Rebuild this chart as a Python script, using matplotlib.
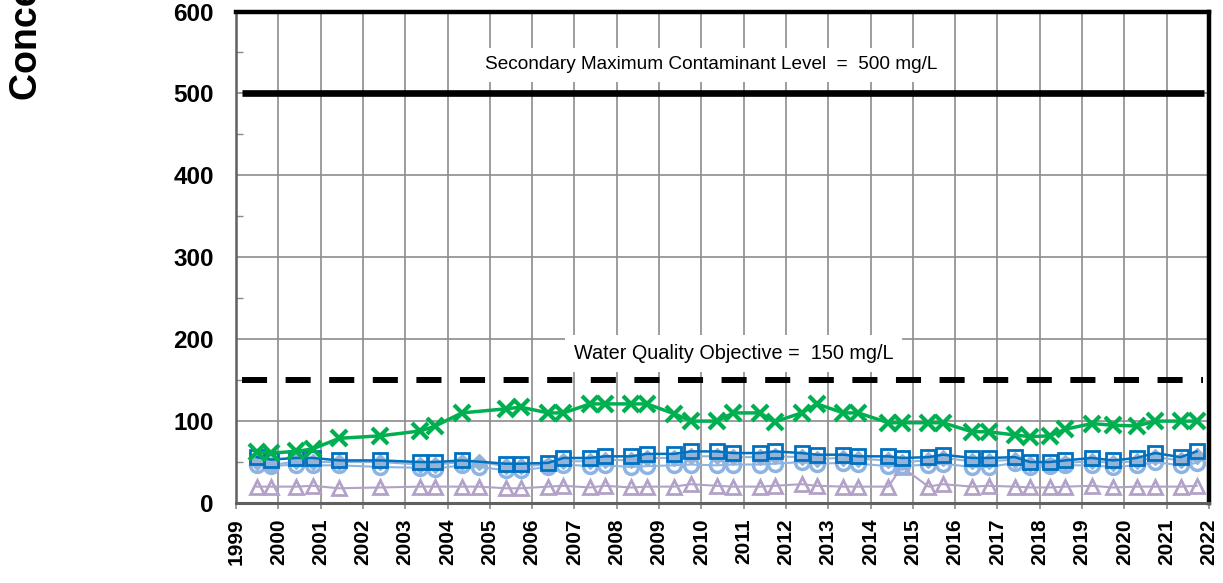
import numpy as np
import matplotlib
matplotlib.use('Agg')
import matplotlib.pyplot as plt
from matplotlib.ticker import MultipleLocator

plt.rcParams['font.family'] = ['Liberation Sans', 'DejaVu Sans']

# sampling dates (decimal years)
dates = [1999.49, 1999.83, 2000.42, 2000.81, 2001.44, 2002.41, 2003.36, 2003.71, 2004.34, 2004.74,
         2005.38, 2005.73, 2006.38, 2006.74, 2007.37, 2007.72, 2008.34, 2008.71, 2009.36, 2009.75,
         2010.36, 2010.76, 2011.39, 2011.73, 2012.37, 2012.73, 2013.36, 2013.71, 2014.42, 2014.74,
         2015.37, 2015.71, 2016.40, 2016.79, 2017.42, 2017.77, 2018.24, 2018.60, 2019.23, 2019.73,
         2020.29, 2020.73, 2021.33, 2021.71]

# green x series (no sample at 2004.74)
green = [62, 61, 63, 66, 79, 82, 88, 94, 110, None,
         115, 117, 110, 110, 121, 121, 121, 121, 109, 100,
         100, 110, 110, 99, 110, 121, 110, 110, 98, 98,
         98, 98, 87, 87, 83, 81, 82, 90, 97, 95,
         94, 100, 100, 100]

# dark blue squares
blue = [56, 53, 55, 55, 52, 52, 50, 50, 52, None,
        48, 48, 49, 55, 55, 57, 57, 60, 60, 63,
        63, 61, 61, 63, 61, 59, 59, 57, 57, 55,
        56, 59, 55, 55, 56, 50, 50, 52, 55, 52,
        55, 61, 56, 63]

# light blue diamonds
ltblue_d = [50, 46, 51, 50, 50, 50, 47, 47, 50, 50,
            45, 45, 47, 51, 51, 53, 52, 55, 55, 57,
            57, 56, 56, 57, 56, 54, 55, 54, 52, 50,
            52, 55, 51, 51, 53, 48, 47, 49, 51, 49,
            51, 56, 52, 58]

# light blue circles
ltblue_c = [47, 45, 47, 46, 46, 44, 43, 42, 46, 44,
            40, 40, 44, 47, 45, 46, 44, 45, 46, 47,
            46, 47, 47, 48, 50, 48, 49, 48, 45, 45,
            47, 48, 44, 44, 49, 44, 45, 46, 46, 44,
            46, 50, 46, 49]

# purple triangles
purple = [20, 20, 20, 21, 18, 19, 20, 20, 20, 20,
          18, 18, 20, 21, 19, 21, 19, 20, 20, 23,
          21, 20, 20, 21, 23, 21, 20, 20, 20, 44,
          20, 23, 20, 21, 20, 19, 19, 20, 21, 19,
          20, 20, 20, 21]

smcl = 500
wqo = 150
years = list(range(1999, 2023))


def clean(xs, ys):
    pts = [(x, y) for x, y in zip(xs, ys) if y is not None]
    return [p[0] for p in pts], [p[1] for p in pts]


fig = plt.figure(figsize=(12.23, 5.83), dpi=100)
ax = fig.add_axes([0.193, 0.1372, 0.7955, 0.843])

grid_c = '#8c8c8c'
ax.set_xlim(1999, 2022)
ax.set_ylim(0, 600)
ax.set_xticks(years)
ax.set_xticklabels([str(y) for y in years], rotation=90, fontsize=15, fontweight='bold')
ax.yaxis.set_major_locator(MultipleLocator(100))
ax.yaxis.set_minor_locator(MultipleLocator(50))
for lab in ax.get_yticklabels():
    lab.set_fontsize(17.5)
    lab.set_fontweight('bold')
ax.grid(True, which='major', color=grid_c, lw=1.2)
ax.set_axisbelow(True)
ax.tick_params(axis='x', which='major', direction='out', length=4, width=1.2, color=grid_c, pad=7)
ax.tick_params(axis='y', which='major', direction='in', length=0, pad=16)
ax.tick_params(axis='y', which='minor', direction='in', length=5, width=1, color=grid_c)
ax.tick_params(axis='x', which='minor', length=0)

ax.spines['left'].set_color('#606060')
ax.spines['left'].set_linewidth(1.8)
ax.spines['bottom'].set_color('#606060')
ax.spines['bottom'].set_linewidth(2.2)
ax.spines['top'].set_color('black')
ax.spines['top'].set_linewidth(3.2)
ax.spines['right'].set_color('black')
ax.spines['right'].set_linewidth(3.2)

# limit lines
ax.plot([1999.13, 2021.88], [smcl, smcl], color='black', lw=4.8, solid_capstyle='butt', zorder=3)
ax.plot([1999.13, 2021.85], [wqo, wqo], color='black', lw=4.3, linestyle=(0, (4.2, 3.1)),
        dash_capstyle='butt', zorder=3)

box = dict(facecolor='white', edgecolor='none', boxstyle='square,pad=0.45')
ax.text(2010.24, 535, 'Secondary Maximum Contaminant Level  =  500 mg/L', ha='center', va='center',
        fontsize=13.7, bbox=box, zorder=4)
ax.text(2010.76, 182, 'Water Quality Objective =  150 mg/L', ha='center', va='center',
        fontsize=14.3, bbox=box, zorder=4)

# data series
x, y = clean(dates, purple)
ax.plot(x, y, color='#B3A2C7', lw=1.5, marker='^', ms=10, mfc='none', mew=2, zorder=5)
x, y = clean(dates, ltblue_c)
ax.plot(x, y, color='#8DB4E2', lw=1.5, marker='o', ms=10, mfc='none', mew=2.5, zorder=6)
x, y = clean(dates, ltblue_d)
ax.plot(x, y, color='#95B3D7', lw=1.5, marker='D', ms=8, mfc='#95B3D7', mew=1, zorder=6)
x, y = clean(dates, blue)
ax.plot(x, y, color='#0070C0', lw=1.8, marker='s', ms=10, mfc='none', mew=2, zorder=7)
x, y = clean(dates, green)
ax.plot(x, y, color='#00B050', lw=2.5, marker='x', ms=11, mew=3, zorder=8)

# y axis title (cut off by the figure edge in the original)
fig.text(27 / 1223, 1 - 100 / 583, 'Concentration (mg/L)', rotation=90, ha='center', va='bottom',
         fontsize=27, fontweight='bold')

fig.savefig('out.png', dpi=100)
